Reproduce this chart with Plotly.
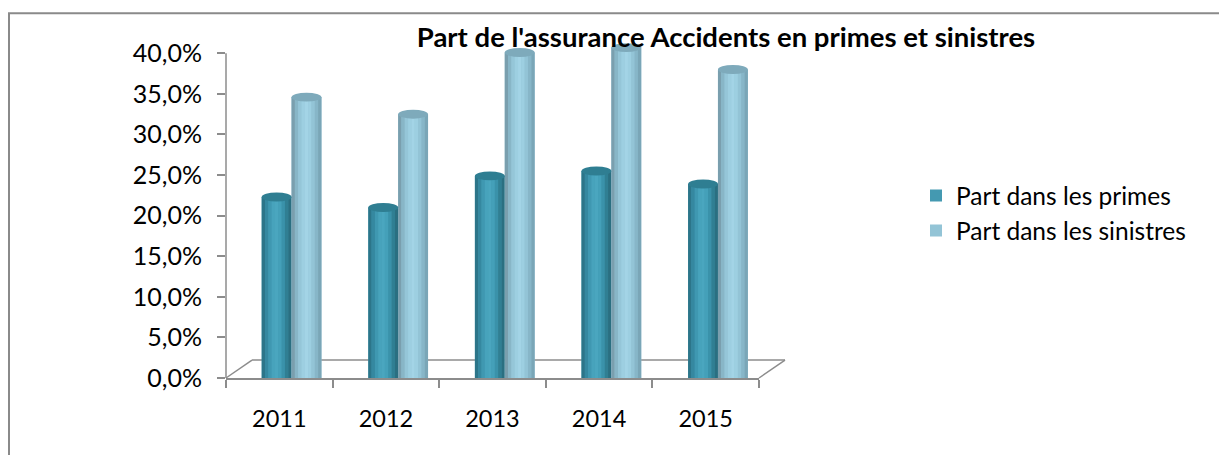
import plotly.graph_objects as go

years = ["2011", "2012", "2013", "2014", "2015"]
primes = [22.3, 21.0, 24.9, 25.5, 23.9]
sinistres = [34.6, 32.5, 40.1, 40.7, 38.0]
y_tickvals = [0, 5, 10, 15, 20, 25, 30, 35, 40]
y_ticktext = ["0,0%", "5,0%", "10,0%", "15,0%", "20,0%", "25,0%", "30,0%", "35,0%", "40,0%"]
series_names = ["Part dans les primes", "Part dans les sinistres"]

FONT = "Lato, 'Noto Sans', sans-serif"
OFF = 8  # page body margin
W, H = 1227 - OFF, 455 - OFF
Y_MAX_AXIS = 40
Y_TOP = 42.5
px_per_unit = (378 - 53) / Y_MAX_AXIS
L, R, B = 226 - OFF, 759 - OFF, 378 - OFF
T = B - Y_TOP * px_per_unit  # plot area in figure pixels

def px_x(p):  # p in screen pixels
    return (p - OFF - L) / (R - L)

def px_y(p):
    return (B - (p - OFF)) / (B - T)

bar_w = 0.28
offsets = [-0.165, 0.115]
legend_colors = ["#4499b1", "#93c4d6"]
shades = [
    ["#2c7589", "#3588a0", "#3f98b1", "#47a3bc", "#4aa6bf", "#44a0b9", "#3a92aa", "#307f93", "#2a6f81"],
    ["#7a9fae", "#88b6c7", "#95c6d8", "#9dcfe1", "#a3d4e6", "#9dcfe1", "#93c4d6", "#87b6c8", "#7aa6b7"],
]
top_colors = ["#2f7e92", "#7eaabb"]

fig = go.Figure()
values = [primes, sinistres]
n = len(shades[0])
for s, vals in enumerate(values):
    fig.add_trace(go.Bar(x=years, y=vals, name=series_names[s], marker_color=legend_colors[s],
                         width=bar_w, offset=offsets[s], marker_line_width=0,
                         hovertemplate="%{x}: %{y:.1f}%<extra>" + series_names[s] + "</extra>"))
    sw = bar_w / n
    for k in range(n):
        fig.add_trace(go.Bar(x=years, y=vals, showlegend=False, hoverinfo="skip",
                             marker_color=shades[s][k], marker_line_width=0,
                             width=sw * 1.02, offset=offsets[s] + k * sw))

shapes = []
for s, vals in enumerate(values):
    for i, v in enumerate(vals):
        shapes.append(dict(type="circle", xref="x", yref="y",
                           x0=i + offsets[s], x1=i + offsets[s] + bar_w,
                           y0=v - 0.55, y1=v + 0.55,
                           fillcolor=top_colors[s], line=dict(width=0), layer="above"))

gray = "#8c8c8c"
shapes += [
    # value axis line, 0 to 40 %
    dict(type="line", xref="paper", yref="y", x0=0, x1=0, y0=0, y1=Y_MAX_AXIS,
         line=dict(color=gray, width=1.5), layer="above"),
    # 3D floor
    dict(type="line", xref="paper", yref="paper", x0=px_x(252), y0=px_y(360), x1=px_x(785), y1=px_y(360),
         line=dict(color=gray, width=1.5), layer="below"),
    dict(type="line", xref="paper", yref="paper", x0=px_x(226), y0=px_y(378), x1=px_x(252), y1=px_y(360),
         line=dict(color=gray, width=1.5), layer="below"),
    dict(type="line", xref="paper", yref="paper", x0=px_x(759), y0=px_y(378), x1=px_x(785), y1=px_y(360),
         line=dict(color=gray, width=1.5), layer="below"),
    # chart border
    dict(type="rect", xref="paper", yref="paper", x0=px_x(9), y0=px_y(480), x1=px_x(1240), y1=px_y(13),
         line=dict(color="#8a8a8a", width=2), fillcolor="rgba(0,0,0,0)", layer="below"),
]

fig.update_layout(
    width=W, height=H,
    margin=dict(l=L, r=W - R, t=T, b=H - B),
    paper_bgcolor="white", plot_bgcolor="white",
    barmode="overlay",
    font=dict(family=FONT, color="#000000"),
    title=dict(text="<b>Part de l'assurance Accidents en primes et sinistres</b>",
               x=px_x(726), xref="paper", xanchor="center",
               y=1 - (37 - OFF) / H, yref="container", yanchor="middle",
               font=dict(family=FONT, size=27.5, color="#000000")),
    legend=dict(x=px_x(916), y=px_y(173), xanchor="left", yanchor="top",
                font=dict(family=FONT, size=24.5, color="#000000"),
                itemsizing="constant", tracegroupgap=4, bgcolor="rgba(0,0,0,0)"),
    shapes=shapes,
    showlegend=True,
)
fig.update_xaxes(type="category", range=[-0.5, 4.5], showline=True, linecolor=gray, linewidth=1.5,
                 ticks="outside", tickson="boundaries", ticklen=8, tickcolor=gray, tickwidth=1.5,
                 showgrid=False, tickfont=dict(family=FONT, size=23.5), ticklabelstandoff=19)
fig.update_yaxes(range=[0, Y_TOP], tickvals=y_tickvals, ticktext=y_ticktext, showline=False,
                 ticks="outside", ticklen=8, tickcolor=gray,
                 tickwidth=1.5, showgrid=False, zeroline=False,
                 tickfont=dict(family=FONT, size=25), ticklabelstandoff=10)

fig.write_html("out.html")
